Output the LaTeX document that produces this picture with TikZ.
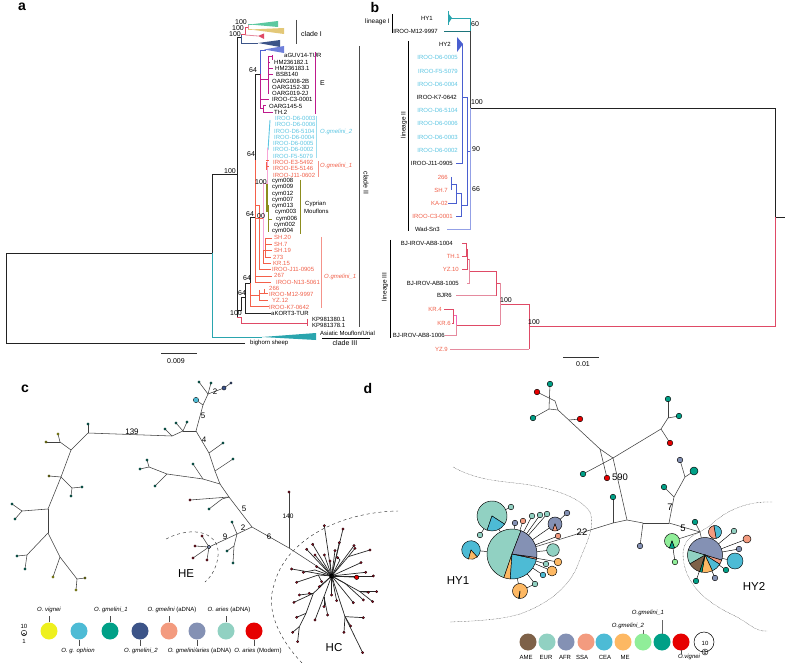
\documentclass[tikz,border=0pt]{standalone}
\usepackage{fontspec}
\setmainfont{Liberation Sans}
\definecolor{txcy}{HTML}{5CC5E2}
\definecolor{txrd}{HTML}{F0604A}
\definecolor{lnblk}{HTML}{222222}
\definecolor{lnteal}{HTML}{2AA5AE}
\definecolor{lnmag}{HTML}{BE1A8C}
\definecolor{lnblue}{HTML}{4A5FD0}
\definecolor{lnlblue}{HTML}{93A0E6}
\definecolor{lnred}{HTML}{DF4A66}
\definecolor{lnpink}{HTML}{E58A9E}
\definecolor{lnolive}{HTML}{8C8C1E}
\definecolor{lnor}{HTML}{F4604A}
\definecolor{lnsal}{HTML}{F4938A}
\definecolor{wgreen}{HTML}{5CC8A0}
\definecolor{wyel}{HTML}{E3C878}
\definecolor{cyel}{HTML}{EEF01E}
\definecolor{ccy}{HTML}{4DBBD5}
\definecolor{ctl}{HTML}{00A087}
\definecolor{cnv}{HTML}{3C5488}
\definecolor{csl}{HTML}{F39B7F}
\definecolor{cbg}{HTML}{8491B4}
\definecolor{clt}{HTML}{91D1C2}
\definecolor{crd}{HTML}{E60000}
\definecolor{cbr}{HTML}{7E6148}
\definecolor{cor}{HTML}{FDB863}
\definecolor{cgr}{HTML}{90EE99}
\definecolor{cdk}{HTML}{8B0A1E}
\tikzset{
 tsix/.style={font=\fontsize{6}{7}\selectfont,inner sep=0pt},
 tw/.style={tsix,anchor=west},
 te/.style={tsix,anchor=east},
 boot/.style={font=\fontsize{7}{8}\selectfont,inner sep=0pt},
 tclade/.style={font=\fontsize{7}{8}\selectfont,inner sep=0pt},
 panel/.style={font=\bfseries\fontsize{14}{16}\selectfont,inner sep=0pt},
 big/.style={font=\fontsize{11.5}{13}\selectfont,inner sep=0pt},
 nlab/.style={font=\fontsize{8}{9}\selectfont,inner sep=0pt},
 dlab/.style={font=\fontsize{9.5}{11}\selectfont,inner sep=0pt},
 br/.style={line width=.8pt,lnblk},
 edge/.style={line width=.55pt,draw=black!75},
 pieedge/.style={line width=.45pt,draw=black},
 sat/.style={line width=.45pt,draw=black},
 fine/.style={line width=.35pt,black!75,dash pattern=on .6pt off .8pt},
}
\newcommand{\mypie}[3]{\begin{scope}[shift={(#1)},x=1pt,y=1pt]\foreach \a/\b/\c in {#3}{\draw[pieedge,fill=\c] (0,0) -- (\a:#2pt) arc[start angle=\a,end angle=\b,radius=#2pt] -- cycle;}\end{scope}}
\newcommand{\mydisc}[3]{\draw[pieedge,fill=#3] (#1) circle (#2pt);}
\begin{document}
\begin{tikzpicture}[x=1pt,y=-1pt]
\useasboundingbox (0,0) rectangle (785,663);
% panel letters
\node[panel] (pa) at (22,7) {a};
\node[panel] (pb) at (375,7) {b};
\node[panel] (pc) at (25,389) {c};
\node[panel] (pd) at (368,388) {d};

%%%%%%%%%%%%%%%%%%%%%%% PANEL a
% root
\draw[br] (245,343) -- (6,343) -- (6,253) -- (212,253) -- (212,174) -- (237,174);
\draw[lnteal,line width=.9pt] (212,253) -- (212,337) -- (262,337);
\fill[lnteal] (262,337) -- (316,333) -- (316,340) -- cycle;
\draw[br,line width=.9pt] (237,37) -- (237,317);
\draw[br] (237,37) -- (241,37);
\draw[br] (237,310) -- (241,310) -- (241,297) -- (245,297);
\draw[br] (245,283) -- (245,313) -- (271,313);
\draw[br] (245,283) -- (250,283) -- (250,217) -- (255,217);
\draw[br] (255,160) -- (255,74) -- (260,74);
\draw[lnred,line width=.8pt] (237,317) -- (241,317) -- (241,323) -- (307,323);
\draw[lnred,line width=.8pt] (307,319) -- (307,326);
% top clades
\draw[cnv,line width=.8pt] (241,34) -- (241,43) -- (258,43);
\fill[cnv] (258,43) -- (280,40) -- (280,47) -- cycle;
\draw[lnred,line width=.8pt] (241,34) -- (245,34) -- (245,27) -- (248,27);
\draw[lnpink,line width=.8pt] (245,35) -- (258,36);
\fill[lnred] (258,36) -- (264,33.5) -- (264,39) -- cycle;
\draw[lnpink,line width=.8pt] (248,24) -- (248,30);
\draw[wgreen,line width=.7pt] (248,24.5) -- (252,24.5);
\fill[wgreen] (250,24.5) -- (278,21) -- (278,27) -- cycle;
\draw[wyel,line width=.7pt] (248,29) -- (252,29);
\fill[wyel] (250,29.5) -- (284,28) -- (284,34) -- cycle;
\draw[lnblue,line width=.8pt] (260,74) -- (260,50) -- (266,50);
\fill[lnblue!80] (264,49.5) -- (284,46) -- (284,53) -- cycle;
% E
\draw[lnmag,line width=.9pt] (260,74) -- (260,108) -- (263,108) -- (263,105) -- (266,105);
\draw[lnmag,line width=.8pt] (263,108) -- (263,112) -- (273,112);
\draw[lnmag,line width=.9pt] (260,79) -- (268,79);
\draw[lnmag,line width=.9pt] (268,56) -- (268,94);
\draw[lnmag,line width=.8pt] (260,99) -- (269,99);
\draw[lnmag,line width=.7pt] (268,56) -- (272,56) (272,55) -- (272,60) (268,62) -- (270,62) (268,68) -- (273,68) (268,74) -- (273,74);
% cyan, pink, red
\draw[txcy,line width=.9pt] (270,120) -- (268,150);
\draw[lnor,line width=.9pt] (255,160) -- (255,217);
\draw[lnor,line width=.7pt] (255,217) -- (255,282) -- (271,282);
\draw[lnor,line width=.7pt] (255,276) -- (272,276);
\draw[magenta!35,line width=1pt] (267,148) -- (267,184) -- (263,184) -- (263,250);
\draw[lnor,line width=.8pt] (266,160) -- (269,160) (266,166) -- (269,166) (266,162) -- (266,170);
\draw[lnor,line width=.7pt] (255,218) -- (263,218);
\draw[lnor,line width=.7pt] (255,205) -- (259,205) -- (259,269) -- (271,269);
\draw[lnor,line width=.7pt] (263,250) -- (265,250) (265,238) -- (265,258) (265,238) -- (272,238) (265,244) -- (272,244) (265,250) -- (272,250) (265,257) -- (271,257) (263,250) -- (263,263) -- (271,263);
% olive
\draw[lnolive,line width=1.2pt] (267,184) -- (267,212);
\draw[lnolive,line width=.7pt] (268,205) -- (268,232) (268,219) -- (272,219);
% lower red
\draw[lnor,line width=.7pt] (250,283) -- (250,306) -- (269,306);
\draw[lnor,line width=.7pt] (250,295) -- (259,295) (259,290) -- (259,300) -- (268,300) (259,293) -- (264,293) (264,289) -- (264,294) (264,293) -- (268,293);
% labels a
\foreach \n/\x/\y/\t in {aGUV14-TUR/284/55/aGUV14-TUR,HM2/274/62/HM236182.1,HM3/275/68/HM236183.1,BSB/276/74.5/BSB140,O8/272/81/OARG008-2B,O1/272/87/OARG152-3D,O0/272/93/OARG019-2J,C3/272/99.5/IROO-C3-0001,O4/269/106/OARG145-5,TH/274/112/TH.2,
 cy1/272/181/cym008,cy2/272/187.5/cym009,cy3/272/194/cym012,cy4/272/200/cym007,cy5/272/206/cym013,cy6/275/212.5/cym003,cy7/276/219/cym006,cy8/274/225/cym002,cy9/272/231.5/cym004,ak/271/313/aKORT3-TUR,k1/312/319/KP981380.1,k2/312/325/KP981378.1,bs/250/343/bighorn sheep}
 \node[tw] (a\n) at (\x,\y) {\t};
\foreach \n/\x/\y/\t in {c1/275/118.5/IROO-D6-0003,c2/275/124.5/IROO-D6-0006,c3/274/131/IROO-D6-5104,c4/274/137/IROO-D6-0004,c5/273/143.5/IROO-D6-0005,c6/273/149.5/IROO-D6-0002,c7/273/156/IROO-F5-5079}
 \node[tw,text=txcy] (a\n) at (\x,\y) {\t};
\foreach \n/\x/\y/\t in {r1/273/162/IROO-E3-5492,r2/273/168/IROO-E5-5146,r3/273/175/IROO-J11-0602,s1/274/237/SH.20,s2/274/244/SH.7,s3/274/250/SH.19,s4/273/257/273,s5/273/263/KR.15,s6/272/269/IROO-J11-0905,s7/274/275/267,s8/276/282/IROO-N13-5061,s9/269/288/266,s10/269/294/IROO-M12-9997,s11/272/300/YZ.12,s12/269/307/IROO-K7-0642}
 \node[tw,text=txrd] (a\n) at (\x,\y) {\t};
\node[tw] (aam) at (320,333) {Asiatic Mouflon/Urial};
\node[tclade] (acl3) at (345,343) {clade III};
\draw[line width=.6pt] (322,338) -- (370,338);
\draw[line width=.8pt,black!80] (161,353) -- (197,353);
\node[boot] (asc) at (176,361) {0.009};
% brackets a
\draw[line width=.7pt,black!70] (296,20) -- (296,44);
\node[tclade,anchor=west] (acl1) at (301,34) {clade I};
\draw[line width=.7pt,black!70] (359,46) -- (359,327);
\node[tclade,rotate=-90] (acl2) at (366,183) {clade II};
\draw[lnmag,line width=.7pt] (315,52) -- (315,114);
\node[tclade,anchor=west] (aE) at (320,83) {E};
\draw[txcy!60,line width=1.1pt] (316.5,116) -- (316.5,158);
\node[tw,text=txcy,font=\itshape\fontsize{6}{7}\selectfont] (ag2) at (320,132) {O.gmelini\_2};
\draw[lnsal,line width=.8pt] (318,161) -- (318,177);
\node[tw,text=txrd,font=\itshape\fontsize{6}{7}\selectfont] (ag1) at (320,166) {O.gmelini\_1};
\draw[lnolive,line width=.7pt] (300,180) -- (300,234);
\node[tw] (acy1) at (305,204) {Cyprian};
\node[tw] (acy2) at (304,211) {Mouflons};
\draw[lnsal,line width=.7pt] (321,237) -- (321,308);
\node[tw,text=txrd,font=\itshape\fontsize{6}{7}\selectfont] (ag3) at (324,277) {O.gmelini\_1};
% bootstrap a
\foreach \n/\x/\y/\t in {1/241/22.5/100,2/238/28.5/100,3/235/34.5/100,4/253/70/64,5/251/154/64,6/230/171/100,7/261/182/100,8/250/214/64,9/261/216/00,10/247/278/64,11/242/293/64,12/236/313/100}
 \node[boot] (ab\n) at (\x,\y) {\t};

%%%%%%%%%%%%%%%%%%%%%%% PANEL b
\node[tsix,font=\fontsize{6.5}{8}\selectfont,anchor=east] (bl1) at (390,22) {lineage I};
\draw[line width=.7pt] (392,14) -- (392,33);
\draw[line width=.7pt] (408,41) -- (408,231);
\draw[line width=.7pt] (390.7,240) -- (390.7,338);
\node[tsix,font=\fontsize{6.5}{8}\selectfont,rotate=90] (bl2) at (404,125) {lineage II};
\node[tsix,font=\fontsize{6.5}{8}\selectfont,rotate=90] (bl3) at (385,287) {lineage III};
\foreach \n/\x/\y/\t in {1/438/31/IROO-M12-9997,2/457/97/IROO-K7-0642,3/453/163/IROO-J11-0905,4/440/229.5/Wad-Sn3,5/453/243/BJ-IROV-AB8-1004,6/459/283/BJ-IROV-AB8-1005,7/452/295/BJR6,8/445/335/BJ-IROV-AB8-1006,9/433/18/HY1,10/451/44/HY2}
 \node[te] (bk\n) at (\x,\y) {\t};
\foreach \n/\x/\y/\t in {1/458/57.5/IROO-D6-0005,2/458/71/IROO-F5-5079,3/458/84/IROO-D6-0004,4/458/110/IROO-D6-5104,5/458/123.5/IROO-D6-0006,6/458/137/IROO-D6-0003,7/458/150/IROO-D6-0002}
 \node[te,text=txcy] (bc\n) at (\x,\y) {\t};
\foreach \n/\x/\y/\t in {1/448/177/266,2/448/190/SH.7,3/448/203/KA-02,4/453/216/IROO-C3-0001,5/460/256/TH.1,6/459/269/YZ.10,7/442/309/KR.4,8/451/323/KR.6,9/448/349/YZ.9}
 \node[te,text=txrd] (br\n) at (\x,\y) {\t};
% teal
\draw[lnteal,line width=.9pt] (448,11) -- (448,25);
\fill[lnteal] (448,13) -- (452,18) -- (448,24) -- cycle;
\draw[lnteal,line width=.8pt] (449,18) -- (470,18) -- (470,31);
\draw[lnteal!70!black,line width=.8pt] (444,31) -- (470,31);
\draw[black!75,line width=.9pt] (470,31) -- (470,108);
\draw[br,line width=.9pt] (470,108) -- (775,108) -- (775,217) -- (785,217);
\draw[lnred,line width=.9pt] (775,217) -- (775,326) -- (529,326);
\draw[lnred,line width=.8pt] (529,304) -- (529,349);
\draw[lnpink,line width=.9pt] (450,349) -- (529,349);
\draw[lnred,line width=.8pt] (500,304) -- (529,304);
\draw[lnpink,line width=.9pt] (500,283) -- (500,325);
\draw[lnred,line width=.8pt] (456,325) -- (500,325);
\draw[lnred,line width=.8pt] (496,283) -- (500,283) (469,271) -- (496,271) -- (496,296);
\draw[lnpink,line width=1pt] (456,296) -- (496,296);
\draw[lnpink,line width=.9pt] (469,259) -- (469,283) -- (467,283);
\draw[lnred,line width=.7pt] (467,249) -- (467,269) -- (462,269) (467,259) -- (469,259) (462,256) -- (467,256) (466,243) -- (466,256) (462,243) -- (466,243);
\draw[lnred,line width=.7pt] (444,309) -- (453.5,309) -- (453.5,323) -- (452,323);
\draw[magenta!60,line width=.9pt] (453.5,315) -- (456,315);
\draw[magenta!60,line width=.8pt] (456,315) -- (456,325);
\draw[lnpink,line width=.9pt] (456,325) -- (456,335) -- (445,335);
% blue
\draw[lnlblue,line width=1pt] (470,108) -- (470,230) -- (447,230);
\draw[lnblue,line width=.8pt] (470,151) -- (467,151);
\draw[lnblue,line width=.8pt] (467,97) -- (467,205) -- (461,205);
\draw[lnblue,line width=.8pt] (462,97) -- (467,97);
\draw[lnblue,line width=.8pt] (462,44) -- (462,153);
\draw[lnblue,line width=.8pt] (456,163) -- (462,163) -- (462,153);
\fill[lnblue] (457,37) -- (457,52) -- (463,44) -- cycle;
\draw[lnblue,line width=.8pt] (461,193) -- (461,216) -- (456,216) (456,193) -- (461,193) (456,184) -- (456,203) -- (448,203) (451,184) -- (456,184) (451,177) -- (451,190);
\foreach \n/\x/\y/\t in {1/475/24/60,2/477/102/100,3/476/149/90,4/476/189/66,5/506/300/100,6/534/322/100}
 \node[boot] (bb\n) at (\x,\y) {\t};
\draw[line width=.8pt,black!80] (563,357) -- (599,357);
\node[boot] (bsc) at (583,364) {0.01};

%%%%%%%%%%%%%%%%%%%%%%% PANEL c
\foreach \n/\x/\y in {
 a1/172/436,a2/88/433,t1/88/424,a3/71/450,a4/60/442,t2/58/434,t3/46/442,a5/61/477,t4/49/476,a6/72/488,t5/82/487,t6/71/496,a7/48/509,a8/22/511,t7/12/504,t8/15/519,a9/48/533,a10/27/555,t9/17/556,t10/25/569,a11/60/557,t11/53/577,a12/77/579,t12/85/578,t13/76/590,
 t14/165/429,a13/183/431,t15/176/423,t16/187/422,a14/196/431,a15/203/405,a16/208/394,t17/199/382,t18/211/383,t19/196/400,t20/224/388,t21/231/383,a17/209/453,t22/223/443,a18/215/471,t23/233/459,a19/220/484,a20/203/479,a21/167/474,a22/149/467,t24/147/460,t25/140/469,t26/155/486,t27/193/464,a23/229/497,t28/190/500,a24/222/499,t29/209/509,a25/252/527,a26/237/534,a27/209/547,t30/232/522,a28/234/546,t31/227/551,t32/233/563,t33/202/536,t34/195/546,t35/193/558,t36/207/560,a29/289/548,t37/289/492,hub/332/576}
 {\coordinate (\n) at (\x,\y);}
\foreach \p/\q in {a1/a2,a2/t1,a2/a3,a3/a4,a4/t2,a4/t3,a3/a5,a5/t4,a5/a6,a6/t5,a6/t6,a5/a7,a7/a8,a8/t7,a8/t8,a7/a9,a9/a10,a10/t9,a10/t10,a9/a11,a11/t11,a11/a12,a12/t12,a12/t13,a1/t14,a1/a13,a13/t15,a13/t16,a13/a14,a14/a15,a15/a16,a16/t17,a16/t18,a15/t19,a16/t20,t20/t21,a14/a17,a17/t22,a17/a18,a18/t23,a18/a19,a19/a20,a20/a21,a21/a22,a22/t24,a22/t25,a21/t26,a20/t27,a19/a23,a23/t28,a23/a24,a24/t29,a23/a25,a25/a26,a26/a27,a26/t30,a26/a28,a28/t31,a28/t32,a27/t33,a27/t34,a27/t35,a27/t36,a25/a29,a29/t37,a29/hub}
 \draw[edge] (\p) -- (\q);
\foreach \n/\c in {t1/ctl!80!black,t2/cyel!85!black,t3/cyel!70!black,t4/cyel!60!black,t5/ctl!80!black,t6/ctl!80!black,t7/ctl!80!black,t8/ctl!80!black,t9/ctl!80!black,t10/ctl!80!black,t11/cyel!85!black,t12/cyel!60!black,t13/cyel!85!black,t14/ctl!80!black,t15/ctl!80!black,t16/ctl!80!black,t17/ctl!80!black,t18/ctl!80!black,t21/cnv,t22/ctl!80!black,t23/ctl!80!black,t24/ctl!80!black,t25/ctl!80!black,t26/ctl!80!black,t27/ctl!80!black,t28/cdk,t29/ctl!80!black,t30/ctl!80!black,t31/ctl!80!black,t32/ctl!80!black,t33/cdk,t34/cdk,t35/cdk,t36/cdk,t37/cdk}
 \fill[\c,draw=black,line width=.2pt] (\n) circle (1.3pt);
\draw[pieedge,fill=ccy,line width=.3pt] (t19) circle (2.7pt);
\draw[pieedge,fill=cnv,line width=.3pt] (t20) circle (2.1pt);
\draw[pieedge,fill=cbg,line width=.3pt] (a27) circle (1.8pt);
% HC star (coordinates in the 3x crop frame)
\begin{scope}[shift={(200,380)},x=.3333pt,y=-.3333pt]
\coordinate (hb) at (395,588);
\foreach \n/\x/\y in {b1/340/640,b2/318/700,b3/298/740,b4/372/650,b5/435/710,b6/445/530,b7/355/585,b8/480/635,b9/435/610,b10/345/570,b11/420/540}
 {\coordinate (\n) at (\x,\y);}
\foreach \p/\q in {hb/b1,b1/b2,b2/b3,hb/b4,hb/b5,hb/b6,hb/b7,hb/b8,hb/b9,hb/b10,hb/b11}
 \draw[edge,line width=.7pt,black!85] (\p) -- (\q);
\foreach \p/\x/\y in {hb/373/437,hb/429/447,hb/418/488,hb/462/497,b6/510/510,hb/338/493,hb/345/525,hb/320/508,hb/373/525,hb/405/512,b11/413/533,hb/390/543,hb/483/548,b6/465/505,hb/275/567,b10/310/577,hb/350/560,hb/520/588,hb/497/577,b7/290/607,b7/365/605,b8/530/635,b8/505/637,b9/490/660,b8/518/665,b1/298/645,b1/282/667,b1/328/640,hb/358/620,b4/372/680,b4/383/705,b4/345/720,b2/290/712,b3/278/757,b3/293/785,b5/490/713,b5/452/738,b5/432/757,b5/488/818,hb/460/668,hb/410/662,hb/395/645}
 {\draw[edge,line width=.7pt,black!85] (\p) -- (\x,\y); \fill[cdk,draw=black,line width=.2pt] (\x,\y) circle (1.3pt);}
\fill[black] (hb) circle (2.5pt);
\draw[edge,line width=.7pt,black!85] (hb) -- (470,592);
\draw[pieedge,fill=crd] (470,592) circle (2.2pt);
\end{scope}
\draw[dashed,line width=.45pt,black!80] (166,539) .. controls (183,530) and (208,527) .. (217,545) .. controls (221,558) and (214,575) .. (205,582);
\draw[dashed,line width=.45pt,black!80] (302,663) .. controls (280,640) and (265,610) .. (274,585) .. controls (285,540) and (340,512) .. (398,511);
\node[big] (cHE) at (186,574) {HE};
\node[big] (cHC) at (334,648) {HC};
\foreach \n/\x/\y/\t in {1/132/432/139,2/215/392/2,3/203/416/5,4/204/440/4,5/244/509/5,6/243/528/2,7/225/537/9,8/269/537/6}
 \node[nlab] (cl\n) at (\x,\y) {\t};
\node[nlab,font=\fontsize{6.5}{8}\selectfont] (cl9) at (288,516) {140};
% legend c
\foreach \n/\x/\c in {1/49/cyel,2/79/ccy,3/110/ctl,4/140/cnv,5/169/csl,6/197/cbg,7/226/clt,8/254/crd}
 \fill[\c] (\x,631) circle (8.5pt) coordinate (cd\n);
\draw[line width=.5pt,black!70] (49,616) -- (49,622) (110,616) -- (110,622) (169,616) -- (169,622) (226,616) -- (226,622);
\draw[line width=.5pt,black!70] (79,640) -- (79,646) (140,640) -- (140,646) (197,640) -- (197,646) (254,640) -- (254,646);
\node[tsix] (cg1) at (49,610) {\itshape O. vignei};
\node[tsix] (cg2) at (111,610) {\itshape O. gmelini\_1};
\node[tsix] (cg3) at (172,610) {{\itshape O. gmelini} (aDNA)};
\node[tsix] (cg4) at (229,610) {{\itshape O. aries} (aDNA)};
\node[tsix] (cg5) at (78,651) {\itshape O. g. ophion};
\node[tsix] (cg6) at (141,651) {\itshape O. gmelini\_2};
\node[tsix] (cg7) at (199.5,651) {{\itshape O. gmelini/aries} (aDNA)};
\node[tsix] (cg8) at (258,651) {{\itshape O. aries} (Modern)};
\node[tsix] (cs1) at (24,626) {10};
\node[tsix] (cs2) at (24,641) {1};
\draw[line width=.4pt] (24,633) circle (2.8pt) (24,634.5) circle (1.3pt);

%%%%%%%%%%%%%%%%%%%%%%% PANEL d
\foreach \n/\x/\y in {u1/550/384,u2/537/392,u3/533/418,u4/580/419,u5/549/409,u6/558/410,u7/555/401,u9/600/449,u10/613/458,u11/607/478,u12/583/474,u13/661/429,u14/668/418,u15/668/399,u16/679/416,u17/670/443,u18/569/420,j1/613/523,j2/627/520,j3/669/523,j4/643/523,v1/613/497,v2/640/546,j5/674/497,j6/685/477,v3/680/460,v4/694/471,v5/664/487,j7/700/532,hya/512/554,hyb/705/555,
 big1/492/516,s1/511/507,s2/480/535,s3/471/550,s4/520/591,s5/535/584,s6/543/575,s7/552/571,s8/546/564,s9/558/562,s10/553/550,s11/558/536,s12/555/524,s13/567/513,s14/547/514,s15/540/515,s16/532/516,s17/523/521,s18/515/523,
 w1/715/532,w2/672/541,w3/675/562,w4/695/522,w5/734/531,w6/747/539,w7/739/549,w8/735/561,w9/726/570,w10/715/578,w11/696/581}
 {\coordinate (\n) at (\x,\y);}
\foreach \p/\q in {u1/u5,u2/u7,u7/u6,u5/u6,u3/u5,u6/u9,u9/u10,u18/u4,u9/u11,u12/u10,u10/u13,u13/u14,u14/u15,u14/u16,u13/u17,u10/j2,v1/j1,hya/j1,j1/j2,j2/j4,j4/j3,j4/v2,j3/j5,j5/j6,j6/v3,j6/v4,j5/v5,j3/j7,j7/w4,j7/hyb,j7/w2}
 \draw[edge] (\p) -- (\q);
\foreach \p/\q in {hya/big1,big1/s1,big1/s2,hya/s3,hya/s4,s4/s5,hya/s5,hya/s6,hya/s7,hya/s8,hya/s9,hya/s10,hya/s11,hya/s12,s12/s13,hya/s14,hya/s15,hya/s16,hya/s17,hya/s18,hyb/w1,w2/w3,hyb/w5,hyb/w6,hyb/w7,hyb/w8,hyb/w9,hyb/w10,hyb/w11}
 \draw[sat] (\p) -- (\q);
% tips upper
\foreach \n/\c in {u1/ctl,u2/crd,u3/ctl,u4/crd,u11/crd,u12/ctl,u15/ctl,u16/ctl,u17/crd,v1/ctl,v2/cbg,v3/cbg,v5/ctl,s1/clt,s2/clt,s5/clt,s6/ccy,s8/clt,s11/csl,s13/cbg,s14/clt,s15/clt,s16/clt,s17/csl,s18/cbg,w3/cgr,w4/ctl,w5/clt,w7/cbg,w9/ctl,w10/cbg,w11/ctl}
 {\mydisc{\n}{2.8}{\c}}
\begin{scope}
\mydisc{v4}{4}{ctl}
\end{scope}
\begin{scope}
\mydisc{s7}{5}{cor}
\mydisc{s9}{3.8}{cor}
\mydisc{s10}{6.3}{clt}
\mydisc{w6}{4}{csl}
\mydisc{w8}{8}{ccy}
\end{scope}
% pies
\mypie{hya}{25}{69/251/clt,251/266/cor,266/348/ccy,348/352/csl,352/429/cbg}
\mypie{big1}{15}{-33/251/clt,-109/-33/ccy}
\mypie{s3}{9.3}{-48/255/ccy,-105/-48/cor}
\mypie{s4}{7.5}{-95/260/cor,-100/-95/ccy}
\mypie{s12}{7}{-70/250/cbg,-110/-70/csl}
\mypie{hyb}{17.5}{-17/163/cbg,-32/-17/csl,-65/-32/ccy,-100/-65/cor,-108/-100/ctl,-150/-108/cbr,163/210/clt}
\mypie{w1}{6.5}{-80/100/ccy,100/280/csl}
\mypie{w2}{7.5}{-70/250/cgr,-110/-70/ctl}
% dotted borders
\draw[fine] (772,502) .. controls (745,501) and (725,512) .. (713,523) .. controls (700,535) and (685,533) .. (683,553) .. controls (683,575) and (695,597) .. (733,615) .. controls (748,622) and (755,632) .. (767,631);
\draw[fine] (453,467) .. controls (480,482) and (505,481) .. (530,485);
\draw[fine] (530,485) .. controls (550,489) and (578,495) .. (590,512);
\draw[fine] (590,512) .. controls (596,528) and (585,545) .. (577,567);
\draw[fine] (577,567) .. controls (567,590) and (545,605) .. (520,614);
\draw[fine] (520,614) .. controls (500,620) and (475,621) .. (450,622);
\node[big] (dHY1) at (458,581) {HY1};
\node[big] (dHY2) at (754,586) {HY2};
\node[dlab] (dl1) at (620,477) {590};
\node[dlab] (dl2) at (582,532) {22};
\node[dlab] (dl3) at (670,507) {7};
\node[dlab] (dl4) at (683,528) {5};
% legend d
\foreach \n/\x/\c in {1/528/cbr,2/547/clt,3/566/cbg,4/586/csl,5/604/ccy,6/623/cor,7/643/cgr,8/662/ctl,9/681/crd}
 \fill[\c] (\x,642) circle (8.5pt) coordinate (dd\n);
\draw[line width=.5pt] (704,642) circle (10pt);
\draw[line width=.4pt] (705,652) circle (3pt);
\node[tsix] (ds1) at (705,643) {10};
\node[tsix] (ds2) at (705,652) {1};
\foreach \n/\x/\t in {1/526/AME,2/546/EUR,3/565/AFR,4/582/SSA,5/605/CEA,6/625/ME}
 \node[tsix] (dg\n) at (\x,657) {\t};
\node[tsix,font=\itshape\fontsize{6}{7}\selectfont] (dg7) at (689,657) {O.vignei};
\node[tsix,font=\itshape\fontsize{6}{7}\selectfont] (dg8) at (628,626) {O.gmelini\_2};
\node[tsix,font=\itshape\fontsize{6}{7}\selectfont] (dg9) at (648,613) {O.gmelini\_1};
\draw[line width=.5pt,black!60] (643,630) -- (643,634) (662,620) -- (662,634);
\draw[line width=.5pt,black!70] (681,650) -- (681,654);
\end{tikzpicture}
\end{document}
